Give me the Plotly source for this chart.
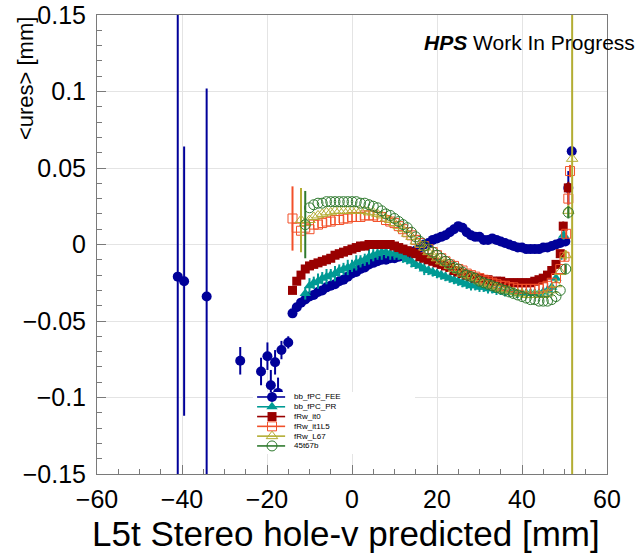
import plotly.graph_objects as go

# ---------------------------------------------------------------- data
# bin centres (mm) shared by the dense part of every profile
X_BINS = list(range(-14, 50))

# <ures> per bin; None = empty bin
FEE_Y = [-0.045, -0.041, -0.038, -0.036, -0.034, -0.033, -0.031, -0.030, -0.028, -0.027, -0.026, -0.024, -0.023, -0.021,
         -0.019, -0.018, -0.016, -0.015, -0.013, -0.012, -0.011, -0.010, -0.010, -0.009,
         -0.009, -0.008, -0.007, -0.007, -0.005, -0.004, -0.002, 0.000, 0.001, 0.003,
         0.004, 0.005, 0.006, 0.008, 0.010, 0.012, 0.011, 0.008, 0.006, 0.005,
         0.005, 0.003, 0.003, 0.004, 0.003, 0.002, 0.001, 0.000, -0.001, -0.002,
         -0.002, -0.003, -0.003, -0.003, -0.003, -0.002, -0.002, -0.001, 0.000, 0.001]

PR_Y = [None, None, None, -0.032, -0.027, -0.025, -0.024, -0.022, -0.021, -0.020, -0.019, -0.017, -0.016, -0.015,
        -0.014, -0.012, -0.011, -0.010, -0.008, -0.007, -0.006, -0.005, -0.005, -0.006,
        -0.006, -0.007, -0.008, -0.010, -0.011, -0.013, -0.014, -0.016, -0.017, -0.018,
        -0.019, -0.020, -0.021, -0.022, -0.023, -0.024, -0.025, -0.026, -0.027, -0.027,
        -0.028, -0.028, -0.029, -0.029, -0.030, -0.030, -0.031, -0.031, -0.031, -0.032,
        -0.032, -0.032, -0.032, -0.032, -0.032, -0.031, -0.030, -0.028, -0.022, None]
PR_ERR = [0, 0, 0, 0.004, 0.005, 0.004, 0.005, 0.004, 0.005, 0.004, 0.005, 0.004, 0.004, 0.005,
          0.004, 0.005, 0.004, 0.004, 0.005, 0.004, 0.004, 0.005, 0.004, 0.004,
          0.004, 0.003, 0.004, 0.003, 0.004, 0.003, 0.003, 0.004, 0.003, 0.003,
          0.003, 0.003, 0.003, 0.003, 0.003, 0.003, 0.003, 0.003, 0.003, 0.003,
          0.003, 0.003, 0.003, 0.003, 0.003, 0.003, 0.003, 0.003, 0.003, 0.003,
          0.003, 0.003, 0.003, 0.003, 0.003, 0.003, 0.003, 0.003, 0.003, 0]

IT0_Y = [-0.030, -0.024, -0.020, -0.016, -0.014, -0.013, -0.012, -0.011, -0.010, -0.009, -0.007, -0.006, -0.005, -0.004,
         -0.003, -0.002, -0.001, -0.001, 0.000, 0.000, 0.000, 0.000, 0.000, 0.000,
         -0.001, -0.002, -0.003, -0.004, -0.005, -0.006, -0.008, -0.009, -0.010, -0.011,
         -0.012, -0.013, -0.014, -0.015, -0.017, -0.018, -0.019, -0.020, -0.021, -0.022,
         -0.022, -0.023, -0.023, -0.024, -0.024, -0.024, -0.025, -0.025, -0.025, -0.025,
         -0.025, -0.025, -0.025, -0.024, -0.023, -0.022, -0.020, -0.017, -0.013, -0.006]

IT1L5_Y = [0.017, 0.011, 0.009, 0.011, 0.010, 0.013, 0.013, 0.014, 0.015, 0.015, 0.016, 0.016, 0.017, 0.017,
           0.018, 0.018, 0.018, 0.019, 0.019, 0.019, 0.018, 0.018, 0.016, 0.015,
           0.014, 0.012, 0.010, 0.008, 0.006, 0.003, 0.001, -0.001, -0.003, -0.005,
           -0.007, -0.009, -0.011, -0.013, -0.014, -0.016, -0.017, -0.019, -0.020, -0.021,
           -0.022, -0.023, -0.024, -0.025, -0.026, -0.027, -0.027, -0.028, -0.028, -0.029,
           -0.029, -0.029, -0.029, -0.029, -0.029, -0.028, -0.027, -0.025, -0.022, -0.016]

L67_Y = [None, None, 0.016, 0.014, 0.016, 0.018, 0.019, 0.020, 0.021, 0.021, 0.022, 0.022, 0.022, 0.022,
         0.022, 0.022, 0.022, 0.022, 0.021, 0.021, 0.020, 0.019, 0.017, 0.016,
         0.014, 0.012, 0.010, 0.007, 0.005, 0.002, 0.000, -0.002, -0.005, -0.007,
         -0.009, -0.011, -0.012, -0.014, -0.016, -0.017, -0.019, -0.020, -0.021, -0.022,
         -0.024, -0.025, -0.026, -0.027, -0.028, -0.029, -0.030, -0.030, -0.031, -0.032,
         -0.032, -0.033, -0.033, -0.033, -0.033, -0.033, -0.032, -0.030, -0.026, -0.018]

T67B_Y = [None, None, None, 0.013, 0.024, 0.026, 0.027, 0.027, 0.028, 0.028, 0.028, 0.028, 0.028, 0.028,
          0.028, 0.028, 0.027, 0.027, 0.026, 0.025, 0.024, 0.022, 0.020, 0.019,
          0.017, 0.015, 0.013, 0.011, 0.008, 0.005, 0.002, -0.001, -0.003, -0.005,
          -0.007, -0.009, -0.011, -0.013, -0.015, -0.016, -0.018, -0.020, -0.021, -0.022,
          -0.024, -0.025, -0.026, -0.027, -0.028, -0.029, -0.030, -0.031, -0.032, -0.033,
          -0.034, -0.035, -0.036, -0.036, -0.037, -0.037, -0.037, -0.036, -0.034, -0.030]

# error on the first filled bin of the profiles that start with a wide bin
IT1L5_FIRST_ERR = 0.021
L67_FIRST_ERR = 0.021
T67B_FIRST_ERR = 0.022

# low-statistics bins of bb_fPC_FEE on the left
FEE_SPARSE_X = [-41.0, -39.5, -34.2, -26.3, -21.4, -19.9, -19.1, -18.1, -17.4, -16.6, -15.0]
FEE_SPARSE_Y = [-0.021, -0.024, -0.034, -0.076, -0.083, -0.073, -0.092, -0.077, -0.097, -0.069, -0.064]
FEE_SPARSE_ERR = [0.300, 0.088, 0.136, 0.009, 0.009, 0.009, 0.010, 0.008, 0.010, 0.006, 0.004]

# edge bins near the sensor end
FEE_TAIL_X = [50.2, 50.9, 51.7]
FEE_TAIL_Y = [0.002, 0.037, 0.061]
FEE_TAIL_ERR = [0.002, 0.011, 0.003]
PR_TAIL_X = [49.3, 49.8]
PR_TAIL_Y = [-0.007, 0.006]
PR_TAIL_ERR = [0.003, 0.003]
IT0_TAIL_X = [49.7, 50.9]
IT0_TAIL_Y = [0.012, 0.037]
IT0_TAIL_ERR = [0.003, 0.004]
IT1L5_TAIL_X = [50.0, 50.4, 50.9, 51.3]
IT1L5_TAIL_Y = [-0.008, 0.007, 0.030, 0.048]
IT1L5_TAIL_ERR = [0.003, 0.003, 0.004, 0.004]
L67_TAIL_X = [50.3, 50.9, 51.8]
L67_TAIL_Y = [-0.007, 0.022, 0.056]
L67_TAIL_ERR = [0.003, 0.004, 0.300]
T67B_TAIL_X = [50.3, 50.9]
T67B_TAIL_Y = [-0.016, 0.021]
T67B_TAIL_ERR = [0.003, 0.004]

NAMES = ["bb_fPC_FEE", "bb_fPC_PR", "fRw_it0", "fRw_it1L5", "fRw_L67", "45t67b"]

# ---------------------------------------------------------------- styles
FONT = "Liberation Sans, Arial, Helvetica, sans-serif"
STYLE = {
    "bb_fPC_FEE": dict(color="#000099", symbol="circle", size=10, lw=0),
    "bb_fPC_PR": dict(color="#009a94", symbol="triangle-up", size=10, lw=0),
    "fRw_it0": dict(color="#990000", symbol="square", size=9, lw=0),
    "fRw_it1L5": dict(color="#f2502a", symbol="square-open", size=9, lw=1),
    "fRw_L67": dict(color="#b3ad33", symbol="triangle-up-open", size=10, lw=1),
    "45t67b": dict(color="#2f7a2f", symbol="circle-open", size=10, lw=1),
}


def with_first_err(values, first_err):
    """error array: given error on the first filled bin, none elsewhere"""
    out, done = [], False
    for v in values:
        if v is not None and not done:
            out.append(first_err)
            done = True
        else:
            out.append(0)
    return out


SERIES = {
    "bb_fPC_FEE": (FEE_SPARSE_X + X_BINS + FEE_TAIL_X,
                   FEE_SPARSE_Y + FEE_Y + FEE_TAIL_Y,
                   FEE_SPARSE_ERR + [0] * len(X_BINS) + FEE_TAIL_ERR),
    "bb_fPC_PR": (X_BINS + PR_TAIL_X, PR_Y + PR_TAIL_Y, PR_ERR + PR_TAIL_ERR),
    "fRw_it0": (X_BINS + IT0_TAIL_X, IT0_Y + IT0_TAIL_Y, [0] * len(X_BINS) + IT0_TAIL_ERR),
    "fRw_it1L5": (X_BINS + IT1L5_TAIL_X, IT1L5_Y + IT1L5_TAIL_Y,
                  with_first_err(IT1L5_Y, IT1L5_FIRST_ERR) + IT1L5_TAIL_ERR),
    "fRw_L67": (X_BINS + L67_TAIL_X, L67_Y + L67_TAIL_Y,
                with_first_err(L67_Y, L67_FIRST_ERR) + L67_TAIL_ERR),
    "45t67b": (X_BINS + T67B_TAIL_X, T67B_Y + T67B_TAIL_Y,
               with_first_err(T67B_Y, T67B_FIRST_ERR) + T67B_TAIL_ERR),
}

fig = go.Figure()

for name in NAMES:
    xs, ys, es = SERIES[name]
    st = STYLE[name]
    fig.add_trace(go.Scatter(
        x=xs, y=ys, mode="markers", name=name, showlegend=False,
        marker=dict(symbol=st["symbol"], size=st["size"], color=st["color"],
                    line=dict(color=st["color"], width=st["lw"])),
        error_y=dict(type="data", array=es, visible=True, color=st["color"],
                     thickness=2, width=0),
        xaxis="x", yaxis="y", hoverinfo="x+y+name",
    ))

# ---------------------------------------------------------------- legend box
# drawn in its own small subplot so that it sits above the data with a white fill
LEG_ROW0, LEG_STEP = 0.92, 0.158
LEG_LINE = (0.025, 0.198)
LEG_MARK = 0.117
LEG_TEXT = 0.24

fig.add_trace(go.Scatter(
    x=[0, 1, 1, 0, 0], y=[0, 0, 1, 1, 0], mode="lines", fill="toself",
    fillcolor="white", line=dict(width=0, color="white"), showlegend=False,
    hoverinfo="skip", xaxis="x2", yaxis="y2",
))
for k, name in enumerate(NAMES):
    st = STYLE[name]
    ry = LEG_ROW0 - k * LEG_STEP
    fig.add_trace(go.Scatter(
        x=list(LEG_LINE), y=[ry, ry], mode="lines", showlegend=False,
        line=dict(color=st["color"], width=1.6), hoverinfo="skip",
        xaxis="x2", yaxis="y2",
    ))
    fig.add_trace(go.Scatter(
        x=[LEG_MARK], y=[ry], mode="markers", showlegend=False,
        marker=dict(symbol=st["symbol"], size=st["size"], color=st["color"],
                    line=dict(color=st["color"], width=st["lw"])),
        hoverinfo="skip", xaxis="x2", yaxis="y2",
    ))
    fig.add_annotation(
        x=LEG_TEXT, y=ry, xref="x2", yref="y2", text=name, showarrow=False,
        xanchor="left", yanchor="middle",
        font=dict(family=FONT, size=8, color="black"),
    )

# ---------------------------------------------------------------- labels
fig.add_annotation(
    x=0.637, y=0.941, xref="paper", yref="paper", xanchor="left", yanchor="middle",
    text="<b><i>HPS</i></b> Work In Progress", showarrow=False,
    font=dict(family=FONT, size=21, color="black"),
)
fig.add_annotation(
    x=0.99, y=-0.177, xref="paper", yref="paper", xanchor="right", yanchor="bottom",
    text="L5t Stereo hole-v predicted [mm]", showarrow=False,
    font=dict(family=FONT, size=35, color="black"),
)
fig.add_annotation(
    x=-0.14, y=1.0, xref="paper", yref="paper", xanchor="center", yanchor="top",
    text="&lt;ures&gt; [mm]", textangle=-90, showarrow=False,
    font=dict(family=FONT, size=22, color="black"),
)

AX_COLOR = "#7a7a7a"
GRID_COLOR = "#e4e4e4"

fig.update_layout(
    width=642, height=559,
    margin=dict(l=97, r=35, t=15, b=85, autoexpand=False),
    paper_bgcolor="white", plot_bgcolor="white",
    showlegend=False,
    font=dict(family=FONT, color="black"),
    xaxis=dict(
        range=[-60, 60], dtick=20, tick0=0, showgrid=True, gridcolor=GRID_COLOR,
        zeroline=False, showline=True, linecolor=AX_COLOR, linewidth=1, mirror=True,
        ticks="inside", ticklen=9, tickcolor=AX_COLOR, automargin=False,
        minor=dict(dtick=5, ticks="inside", ticklen=5, tickcolor=AX_COLOR, showgrid=False),
        tickfont=dict(family=FONT, size=25, color="black"), ticklabelstandoff=3,
    ),
    yaxis=dict(
        range=[-0.15, 0.15], dtick=0.05, tick0=0, showgrid=True, gridcolor=GRID_COLOR,
        zeroline=False, showline=True, linecolor=AX_COLOR, linewidth=1, mirror=True,
        ticks="inside", ticklen=9, tickcolor=AX_COLOR, automargin=False,
        minor=dict(dtick=0.01, ticks="inside", ticklen=5, tickcolor=AX_COLOR, showgrid=False),
        tickfont=dict(family=FONT, size=25, color="black"), ticklabelstandoff=5,
    ),
    xaxis2=dict(domain=[0.306, 0.6235], range=[0, 1], anchor="y2", visible=False,
                fixedrange=True, automargin=False),
    yaxis2=dict(domain=[0.0436, 0.1786], range=[0, 1], anchor="x2", visible=False,
                fixedrange=True, automargin=False),
)

fig.write_html("out.html")
